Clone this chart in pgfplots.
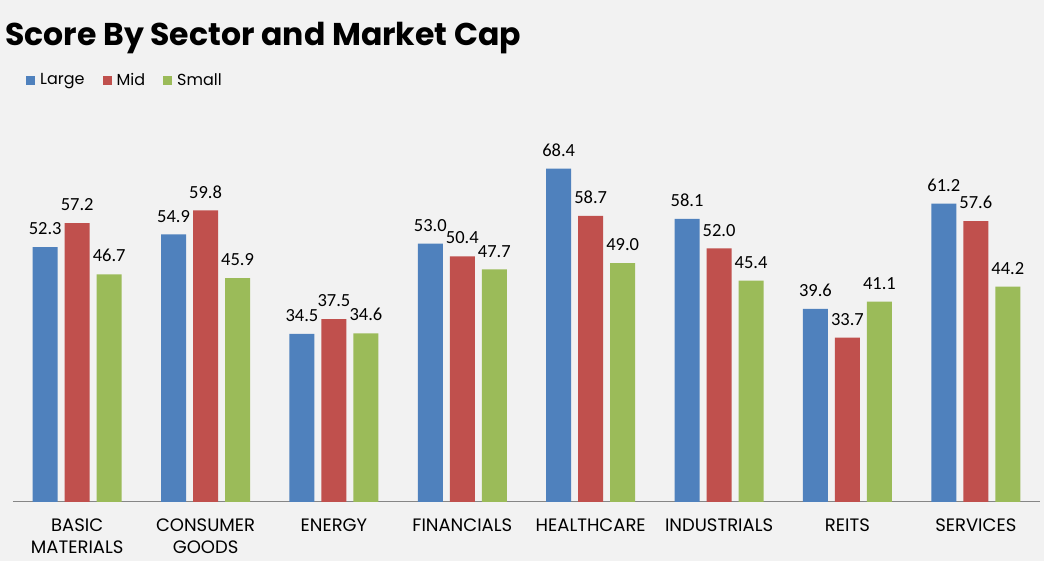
\documentclass[border=0pt]{standalone}
\usepackage{pgfplots}
\pgfplotsset{compat=1.18}
\usepackage{fontspec}
\setmainfont{Poppins}
\newfontfamily\lblfont{Carlito}
\definecolor{bg}{HTML}{F2F2F2}
\definecolor{cLarge}{HTML}{4F81BD}
\definecolor{cMid}{HTML}{C0504D}
\definecolor{cSmall}{HTML}{9BBB59}
\definecolor{axgray}{HTML}{868686}

\pgfplotstableread{
x large mid small
0 52.3 57.2 46.7
1 54.9 59.8 45.9
2 34.5 37.5 34.6
3 53.0 50.4 47.7
4 68.4 58.7 49.0
5 58.1 52.0 45.4
6 39.6 33.7 41.1
7 61.2 57.6 44.2
}\scores

\begin{document}
\begin{tikzpicture}
\fill[bg] (0,0) rectangle (1044pt,561pt);
\useasboundingbox (0,0) rectangle (1044pt,561pt);
\node[anchor=base west, inner sep=0pt, font=\fontsize{31.5}{38}\selectfont\bfseries]
  at (5pt,515pt) {Score By Sector and Market Cap};
\begin{axis}[
  at={(13pt,59pt)}, anchor=south west,
  scale only axis, width=1027pt, height=390pt,
  ybar=7pt, bar width=25pt,
  ymin=0, ymax=80, xmin=-0.5, xmax=7.5,
  clip=false,
  hide y axis,
  axis x line=bottom,
  axis line style={-, draw=axgray, line width=1pt},
  major tick length=0pt,
  xtick=data,
  xticklabels={BASIC\\MATERIALS, CONSUMER\\GOODS, ENERGY, FINANCIALS, HEALTHCARE, INDUSTRIALS, REITS, SERVICES},
  xticklabel style={align=center, anchor=north, yshift=-13pt,
    font=\fontsize{18}{22}\selectfont},
  nodes near coords={\pgfmathprintnumber[fixed,fixed zerofill,precision=1]{\pgfplotspointmeta}},
  every node near coord/.append style={font=\lblfont\fontsize{18.5}{22}\selectfont,
    inner sep=0pt, yshift=12pt, black},
  /pgf/number format/assume math mode=true,
  legend columns=-1,
  legend style={at={(axis description cs:0.0127,1.082)}, anchor=west,
    draw=none, fill=none, font=\fontsize{16}{20}\selectfont,
    /tikz/every odd column/.append style={column sep=3pt},
    /tikz/every even column/.append style={column sep=16pt},
    inner sep=0pt},
  legend image code/.code={\fill[#1] (0pt,-4.5pt) rectangle (9pt,4.5pt);},
]
\addplot[fill=cLarge, draw=none] table[x=x, y=large] {\scores};
\addplot[fill=cMid, draw=none] table[x=x, y=mid] {\scores};
\addplot[fill=cSmall, draw=none] table[x=x, y=small] {\scores};
\legend{Large, Mid, Small}
\end{axis}
\end{tikzpicture}
\end{document}
